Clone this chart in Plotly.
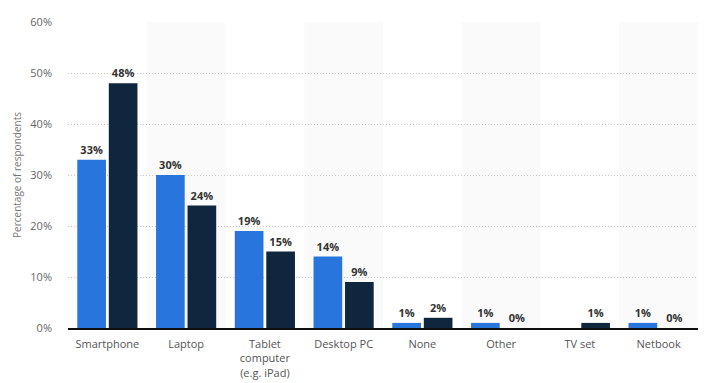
import plotly.graph_objects as go

categories = ["Smartphone", "Laptop", "Tablet<br>computer<br>(e.g. iPad)", "Desktop PC",
              "None", "Other", "TV set", "Netbook"]
series_a = [33, 30, 19, 14, 1, 1, None, 1]
series_b = [48, 24, 15, 9, 2, 0, 1, 0]
y_ticks = [0, 10, 20, 30, 40, 50, 60]
y_tick_labels = ["0%", "10%", "20%", "30%", "40%", "50%", "60%"]

blue = "#2876dd"
navy = "#10263f"

fig = go.Figure()
for vals, col in [(series_a, blue), (series_b, navy)]:
    fig.add_trace(go.Bar(
        x=categories, y=vals, marker=dict(color=col, line=dict(width=0)),
        text=[None if v is None else f"{v}%" for v in vals],
        texttemplate="<b>%{text}</b>",
        textposition="outside",
        textfont=dict(size=11, color="#333333", family="Open Sans"),
        cliponaxis=False, showlegend=False,
    ))

# alternating background bands
for i in range(1, len(categories), 2):
    fig.add_shape(type="rect", xref="x", yref="y", layer="below",
                  x0=i - 0.5, x1=i + 0.5, y0=0, y1=60,
                  fillcolor="#fafafa", line=dict(width=0))

fig.update_layout(
    width=716, height=383,
    margin=dict(l=68, r=18, t=22, b=55),
    plot_bgcolor="white", paper_bgcolor="white",
    barmode="group", bargap=0.2, bargroupgap=0.09,
    font=dict(family="Open Sans", color="#666666", size=11),
    xaxis=dict(showgrid=False, ticks="", tickfont=dict(size=11, color="#555555"),
               showline=True, linecolor="#111111", linewidth=1.5, automargin=False,
               ticklabelstandoff=5,
               range=[-0.5, len(categories) - 0.5]),
    yaxis=dict(range=[0, 60], tickvals=y_ticks, ticktext=y_tick_labels,
               showgrid=True, gridcolor="#c8c8c8", griddash="1px,2px", gridwidth=1,
               zeroline=False, ticks="", ticklabelstandoff=15, automargin=False,
               tickfont=dict(size=11, color="#666666"),
               title=dict(text="Percentage of respondents", font=dict(size=10, color="#777777"),
                          standoff=6)),
)

fig.write_html("out.html", config={"displayModeBar": False},
               post_script="document.body.style.margin='0';document.body.style.overflow='hidden';")
